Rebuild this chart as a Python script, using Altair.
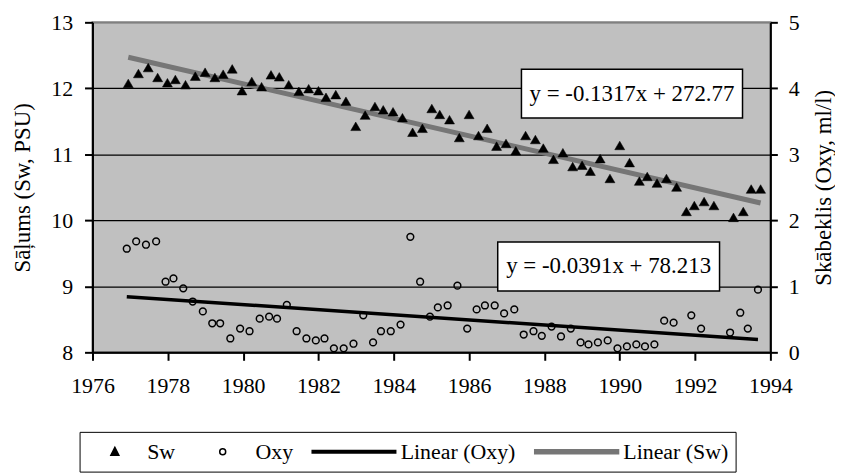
import altair as alt
import pandas as pd

# ---------------- data ----------------
sw_years = [1976.95, 1977.22, 1977.48, 1977.73, 1977.99, 1978.20, 1978.47, 1978.73, 1978.99, 1979.25,
            1979.47, 1979.71, 1979.97, 1980.23, 1980.49, 1980.74, 1980.96, 1981.21, 1981.48, 1981.74,
            1982.00, 1982.20, 1982.46, 1982.73, 1982.99, 1983.24, 1983.50, 1983.72, 1983.98, 1984.23,
            1984.50, 1984.76, 1985.01, 1985.22, 1985.48, 1985.74, 1986.00, 1986.25, 1986.48, 1986.73,
            1986.98, 1987.24, 1987.50, 1987.76, 1987.97, 1988.24, 1988.49, 1988.75, 1989.00, 1989.22,
            1989.48, 1989.74, 1990.00, 1990.26, 1990.52, 1990.73, 1990.99, 1991.24, 1991.51, 1991.77,
            1991.98, 1992.24, 1992.50, 1993.02, 1993.28, 1993.49, 1993.74]
sw_values = [12.07, 12.22, 12.31, 12.16, 12.08, 12.13, 12.05, 12.18, 12.24, 12.16,
             12.21, 12.29, 11.96, 12.10, 12.02, 12.20, 12.17, 12.05, 11.95, 11.99,
             11.96, 11.86, 11.90, 11.80, 11.42, 11.59, 11.72, 11.67, 11.64, 11.55,
             11.33, 11.39, 11.69, 11.60, 11.52, 11.25, 11.60, 11.28, 11.39, 11.12,
             11.16, 11.05, 11.28, 11.22, 11.09, 10.92, 11.02, 10.81, 10.83, 10.74,
             10.93, 10.63, 11.13, 10.87, 10.59, 10.66, 10.56, 10.63, 10.50, 10.13,
             10.22, 10.28, 10.22, 10.04, 10.13, 10.47, 10.47]

oxy_years = [1976.91, 1977.16, 1977.42, 1977.69, 1977.94, 1978.15, 1978.41, 1978.66, 1978.93, 1979.18,
             1979.39, 1979.66, 1979.92, 1980.17, 1980.44, 1980.69, 1980.90, 1981.16, 1981.42, 1981.68,
             1981.93, 1982.16, 1982.41, 1982.67, 1982.93, 1983.19, 1983.45, 1983.66, 1983.92, 1984.18,
             1984.44, 1984.70, 1984.96, 1985.17, 1985.43, 1985.69, 1985.95, 1986.20, 1986.42, 1986.68,
             1986.93, 1987.20, 1987.45, 1987.71, 1987.93, 1988.19, 1988.44, 1988.70, 1988.96, 1989.17,
             1989.42, 1989.68, 1989.94, 1990.19, 1990.44, 1990.67, 1990.92, 1991.18, 1991.43, 1991.90,
             1992.16, 1992.93, 1993.20, 1993.40, 1993.67]
oxy_values = [1.57, 1.68, 1.63, 1.68, 1.07, 1.12, 0.97, 0.77, 0.62, 0.44,
              0.44, 0.21, 0.36, 0.32, 0.51, 0.54, 0.51, 0.72, 0.32, 0.21,
              0.18, 0.21, 0.06, 0.06, 0.13, 0.56, 0.15, 0.32, 0.32, 0.42,
              1.75, 1.07, 0.54, 0.68, 0.71, 1.01, 0.36, 0.65, 0.71, 0.71,
              0.59, 0.65, 0.27, 0.32, 0.25, 0.39, 0.24, 0.36, 0.15, 0.12,
              0.15, 0.18, 0.06, 0.09, 0.12, 0.09, 0.12, 0.48, 0.45, 0.56,
              0.36, 0.30, 0.60, 0.36, 0.95]

series_names = ["Sw", "Oxy", "Linear (Oxy)", "Linear (Sw)"]
x_ticks = [1976, 1978, 1980, 1982, 1984, 1986, 1988, 1990, 1992, 1994]
sw_ticks = [8, 9, 10, 11, 12, 13]
oxy_ticks = [0, 1, 2, 3, 4, 5]
sw_title = "Sāļums (Sw, PSU)"
oxy_title = "Skābeklis (Oxy, ml/l)"
eq_sw_text = "y = -0.1317x + 272.77"
eq_oxy_text = "y = -0.0391x + 78.213"

# annotation boxes (data coordinates)
eq_sw_box = {"x0": 1987.39, "x1": 1993.26, "y0": 11.55, "y1": 12.29}
eq_oxy_box = {"x0": 1986.76, "x1": 1992.65, "y0": 0.93, "y1": 1.67}

# ---------------- tables ----------------
sw_df = pd.DataFrame({"year": sw_years, "value": sw_values, "series": "Sw"})
oxy_df = pd.DataFrame({"year": oxy_years, "value": oxy_values, "series": "Oxy"})

sw_box_df = pd.DataFrame([eq_sw_box])
oxy_box_df = pd.DataFrame([eq_oxy_box])
sw_txt_df = pd.DataFrame({"xc": [(eq_sw_box["x0"] + eq_sw_box["x1"]) / 2],
                          "yc": [(eq_sw_box["y0"] + eq_sw_box["y1"]) / 2],
                          "label": [eq_sw_text]})
oxy_txt_df = pd.DataFrame({"xc": [(eq_oxy_box["x0"] + eq_oxy_box["x1"]) / 2],
                           "yc": [(eq_oxy_box["y0"] + eq_oxy_box["y1"]) / 2],
                           "label": [eq_oxy_text]})

FONT = "Liberation Serif"
SW_LINE = "#767676"

# plot marker shapes (unit = sqrt(6400)/2 = 40 px)
TRIANGLE = "M0,-0.115L0.125,0.1L-0.125,0.1Z"
CIRCLE = "M0.085,0A0.085,0.085,0,1,1,-0.085,0A0.085,0.085,0,1,1,0.085,0Z"

# ---------------- legend (scales only; drawn from an empty layer) ----------------
# marker entries get a narrow symbol slot, line entries a wide one; all legend
# scales share one domain so that Vega-Lite merges them into a single legend
N_PAD = 60
size_pad = ["_%d" % i for i in range(N_PAD)]
legend_domain = series_names[:2] + size_pad + series_names[2:]

LEG_TRI = "M0,-0.16L0.144,0.13L-0.144,0.13Z"
LEG_CIRC = "M0.107,0A0.107,0.107,0,1,1,-0.107,0A0.107,0.107,0,1,1,0.107,0Z"
LEG_OXY_LINE = "M-1,-0.031L1,-0.031L1,0.031L-1,0.031Z"
LEG_SW_LINE = "M-1,-0.048L1,-0.048L1,0.048L-1,0.048Z"

size_scale = alt.Scale(type="point", domain=legend_domain, range=[3080, 7140], padding=0)
shape_scale = alt.Scale(domain=legend_domain,
                        range=[LEG_TRI, LEG_CIRC] + [LEG_CIRC] * N_PAD + [LEG_OXY_LINE, LEG_SW_LINE])
fill_scale = alt.Scale(domain=legend_domain,
                       range=["black", "transparent"] + ["transparent"] * N_PAD + ["black", SW_LINE])
stroke_scale = alt.Scale(domain=legend_domain,
                         range=["black", "black"] + ["black"] * N_PAD + ["black", SW_LINE])

legend = alt.Legend(orient="none", legendX=-13, legendY=412, direction="horizontal",
                    values=series_names,
                    fillColor="white", strokeColor="black", padding=7, clipHeight=26,
                    labelFont=FONT, labelFontSize=22, labelColor="black",
                    labelOffset=4, columnPadding=18, symbolStrokeWidth=1.5)

# ---------------- axes ----------------
x_scale = alt.Scale(domain=[1976, 1994], nice=False, zero=False)
x_axis = alt.Axis(values=x_ticks, format="d", title=None, grid=False, tickSize=8,
                  labelPadding=15, labelFlush=False, labelOverlap=False)

sw_scale = alt.Scale(domain=[8, 13], nice=False, zero=False)
sw_axis = alt.Axis(orient="left", values=sw_ticks, title=sw_title, grid=True,
                   gridColor={"condition": {"test": "datum.value === 13", "value": "#808080"},
                              "value": "black"},
                   gridWidth=1.3, tickSize=8, labelPadding=12, titlePadding=16,
                   labelFlush=False, labelOverlap=False)

oxy_scale = alt.Scale(domain=[0, 5], nice=False, zero=False)
oxy_axis = alt.Axis(orient="right", values=oxy_ticks, title=oxy_title, grid=False,
                    tickSize=7, labelPadding=11, titlePadding=13, titleAngle=270,
                    titleBaseline="top", labelFlush=False, labelOverlap=False)

# ---------------- salinity (left axis) ----------------
sw_x = alt.X("year:Q", scale=x_scale, axis=x_axis)
sw_y = alt.Y("value:Q", scale=sw_scale, axis=sw_axis)

sw_trend = alt.Chart(sw_df).transform_regression("year", "value").mark_line(
    color=SW_LINE, strokeWidth=5).encode(x=sw_x, y=sw_y)
sw_points = alt.Chart(sw_df).mark_point(shape=TRIANGLE, size=6400, filled=True, fill="black",
                                        stroke="black", strokeWidth=0.5, opacity=1).encode(
    x=sw_x, y=sw_y)
legend_layer = alt.Chart(sw_df).transform_filter("false").mark_point(opacity=1).encode(
    x=sw_x, y=sw_y,
    shape=alt.Shape("series:N", scale=shape_scale, legend=legend, title=None),
    fill=alt.Fill("series:N", scale=fill_scale, legend=legend, title=None),
    stroke=alt.Stroke("series:N", scale=stroke_scale, legend=legend, title=None),
    size=alt.Size("series:N", scale=size_scale, legend=legend, title=None),
)
sw_box = alt.Chart(sw_box_df).mark_rect(fill="white", stroke="black", strokeWidth=1.5).encode(
    x=alt.X("x0:Q", scale=x_scale, axis=x_axis), x2="x1:Q",
    y=alt.Y("y0:Q", scale=sw_scale, axis=sw_axis), y2="y1:Q")
sw_text = alt.Chart(sw_txt_df).mark_text(font=FONT, fontSize=23, color="black",
                                         align="center", baseline="middle").encode(
    x=alt.X("xc:Q", scale=x_scale, axis=x_axis),
    y=alt.Y("yc:Q", scale=sw_scale, axis=sw_axis), text="label:N")

group_sw = alt.layer(sw_trend, sw_points, legend_layer, sw_box, sw_text)

# ---------------- oxygen (right axis) ----------------
oxy_x = alt.X("year:Q", scale=x_scale, axis=x_axis)
oxy_y = alt.Y("value:Q", scale=oxy_scale, axis=oxy_axis)

oxy_trend = alt.Chart(oxy_df).transform_regression("year", "value").mark_line(
    color="black", strokeWidth=3.5).encode(x=oxy_x, y=oxy_y)
oxy_points = alt.Chart(oxy_df).mark_point(shape=CIRCLE, size=6400, filled=False,
                                          stroke="black", strokeWidth=1.5, opacity=1).encode(
    x=oxy_x, y=oxy_y)
oxy_box = alt.Chart(oxy_box_df).mark_rect(fill="white", stroke="black", strokeWidth=1.5).encode(
    x=alt.X("x0:Q", scale=x_scale, axis=x_axis), x2="x1:Q",
    y=alt.Y("y0:Q", scale=oxy_scale, axis=oxy_axis), y2="y1:Q")
oxy_text = alt.Chart(oxy_txt_df).mark_text(font=FONT, fontSize=23, color="black",
                                           align="center", baseline="middle").encode(
    x=alt.X("xc:Q", scale=x_scale, axis=x_axis),
    y=alt.Y("yc:Q", scale=oxy_scale, axis=oxy_axis), text="label:N")

group_oxy = alt.layer(oxy_trend, oxy_points, oxy_box, oxy_text)

chart = alt.layer(group_sw, group_oxy).resolve_scale(y="independent").properties(
    width=682, height=332,
    padding={"left": 85, "top": 13, "right": 65, "bottom": 122},
    autosize=alt.AutoSizeParams(type="none"),
    background="white",
).configure_view(
    fill="#c0c0c0", stroke="#808080", strokeWidth=2
).configure_axis(
    labelFont=FONT, titleFont=FONT, labelFontSize=22, titleFontSize=23,
    labelColor="black", titleColor="black", titleFontWeight="normal",
    domainColor="black", tickColor="black", domainWidth=2, tickWidth=2,
)

chart.save("out.html", embed_options={"renderer": "svg", "actions": False})
